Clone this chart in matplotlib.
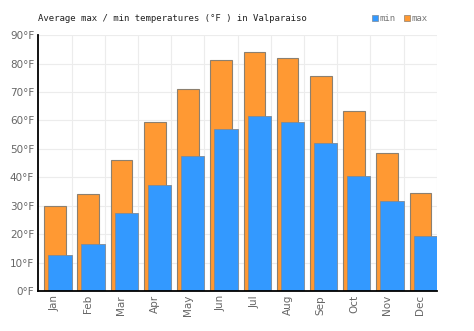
import numpy as np
import matplotlib.pyplot as plt

# Monthly averages for Valparaiso, degrees Fahrenheit
months = ["Jan", "Feb", "Mar", "Apr", "May", "Jun",
          "Jul", "Aug", "Sep", "Oct", "Nov", "Dec"]
t_max = [30.0, 34.0, 46.0, 59.3, 70.9, 81.2, 84.2, 81.8, 75.6, 63.3, 48.6, 34.6]
t_min = [12.6, 16.4, 27.3, 37.3, 47.3, 56.9, 61.5, 59.3, 52.2, 40.6, 31.7, 19.3]
y_ticks = list(range(0, 91, 10))

orange = "#ff9933"
blue = "#3399ff"
edge = "#8c8070"
grey_txt = "#666666"

fig = plt.figure(figsize=(4.74, 3.31), dpi=100)
ax = fig.add_axes([0.0808, 0.121, 0.841, 0.773])

x = np.arange(len(months))
ax.bar(x + 0.005, t_max, width=0.65, color=orange, edgecolor=edge, linewidth=0.8, zorder=2)
ax.bar(x + 0.15, t_min, width=0.70, color=blue, edgecolor="#7f8a96", linewidth=0.6, zorder=3)

ax.set_xlim(-0.5, 11.5)
ax.set_ylim(0, 90)

# grid: horizontal every 10 degrees, vertical on month boundaries
for v in y_ticks[1:]:
    ax.axhline(v, color="#ececec", lw=0.8, zorder=1)
for b in np.arange(0.5, 12, 1):
    ax.axvline(b, color="#ececec", lw=0.8, zorder=1)

ax.set_yticks(y_ticks)
ax.set_yticklabels([f"{v}°F" for v in y_ticks], color=grey_txt, fontsize=7.5)
ax.set_xticks(x)
ax.set_xticklabels(months, rotation=90, color=grey_txt, fontsize=7.5)
ax.tick_params(length=0, pad=3)

for s in ["top", "right"]:
    ax.spines[s].set_visible(False)
for s in ["left", "bottom"]:
    ax.spines[s].set_linewidth(1.3)
    ax.spines[s].set_zorder(5)

fig.text(0.08, 0.945, "Average max / min temperatures (°F ) in Valparaiso",
         family="DejaVu Sans Mono", fontsize=6.5, color="#222222", va="center")

# legend squares
fig.patches.append(plt.Rectangle((0.785, 0.937), 0.013, 0.019, transform=fig.transFigure,
                                 facecolor=blue, edgecolor="#7f8a96", lw=0.5))
fig.text(0.801, 0.945, "min", family="DejaVu Sans Mono", fontsize=6.5, color="#777777", va="center")
fig.patches.append(plt.Rectangle((0.852, 0.937), 0.013, 0.019, transform=fig.transFigure,
                                 facecolor=orange, edgecolor=edge, lw=0.5))
fig.text(0.868, 0.945, "max", family="DejaVu Sans Mono", fontsize=6.5, color="#777777", va="center")

fig.savefig("out.png", dpi=100)
